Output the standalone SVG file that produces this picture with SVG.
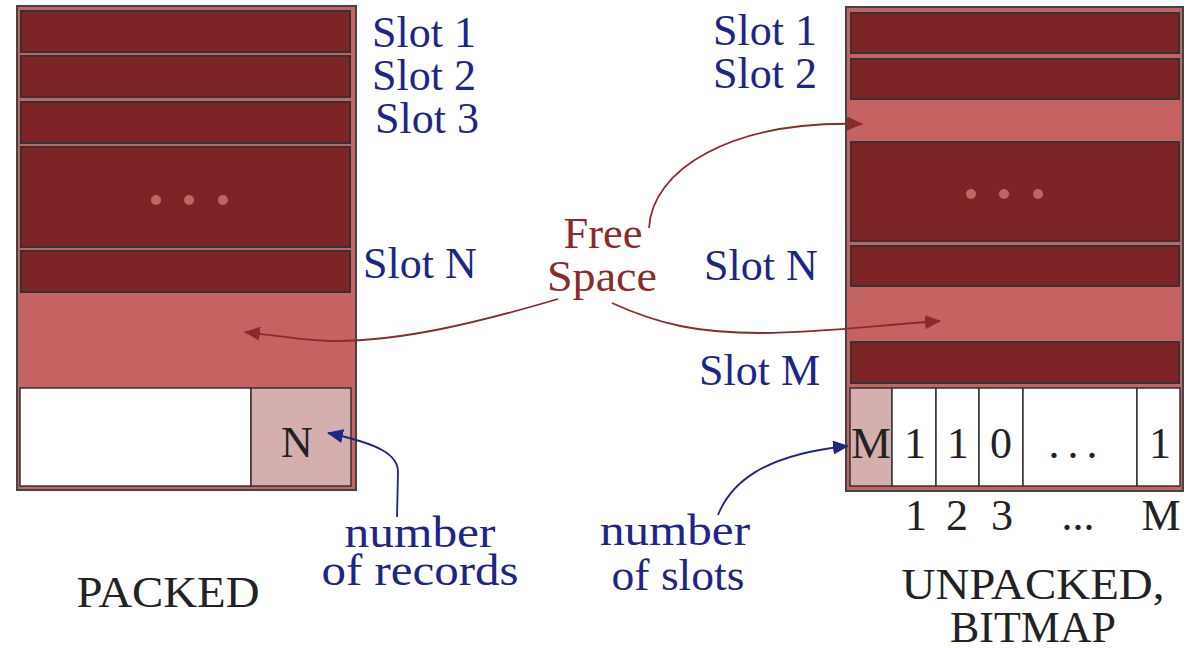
<svg xmlns="http://www.w3.org/2000/svg" width="1186" height="648" viewBox="0 0 1186 648">
<style>
.page{fill:#c56262;stroke:#444;stroke-width:2}
.slot{fill:#7d2526;stroke:#333;stroke-width:2}
.cell{fill:#fff;stroke:#333;stroke-width:1.5}
.pcell{fill:#d5aeae;stroke:#333;stroke-width:1.5}
.dot{fill:#c56262}
.blue{font-family:"Liberation Serif",serif;font-size:44px;fill:#1e2585}
.red{font-family:"Liberation Serif",serif;font-size:45px;fill:#8a2b2b}
.blk{font-family:"Liberation Serif",serif;font-size:44px;fill:#222}
.rarr{fill:none;stroke:#8a2b2b;stroke-width:1.8}
.barr{fill:none;stroke:#1e2585;stroke-width:1.8}
</style>
<defs>
<marker id="ahR" markerWidth="16" markerHeight="14" refX="15" refY="7" orient="auto" markerUnits="userSpaceOnUse"><path d="M0,0 L16,7 L0,14 Z" fill="#8a2b2b"/></marker>
<marker id="ahB" markerWidth="16" markerHeight="14" refX="15" refY="7" orient="auto" markerUnits="userSpaceOnUse"><path d="M0,0 L16,7 L0,14 Z" fill="#1e2585"/></marker>
</defs>
<rect width="1186" height="648" fill="#fff"/>

<g id="packed-page">
<rect class="page" x="17" y="6" width="339" height="484"/>
<rect class="slot" x="21" y="11" width="329" height="41"/>
<rect class="slot" x="21" y="56" width="329" height="41"/>
<rect class="slot" x="21" y="102" width="329" height="41"/>
<rect class="slot" x="21" y="147" width="329" height="100"/>
<circle class="dot" cx="156" cy="200" r="5"/>
<circle class="dot" cx="189" cy="200" r="5"/>
<circle class="dot" cx="223" cy="200" r="5"/>
<rect class="slot" x="21" y="251" width="329" height="41"/>
<rect class="cell" x="20" y="388" width="231" height="98"/>
<rect class="pcell" x="251" y="388" width="100" height="98"/>
<text class="blk" x="297" y="457" text-anchor="middle" fill="#333">N</text>
</g>

<g id="packed-labels">
<text class="blue" x="372" y="47">Slot 1</text>
<text class="blue" x="372" y="90">Slot 2</text>
<text class="blue" x="375" y="133">Slot 3</text>
<text class="blue" x="363" y="278">Slot N</text>
<text class="blk" x="168" y="607" text-anchor="middle" textLength="183" lengthAdjust="spacingAndGlyphs">PACKED</text>
<text class="blue" x="420" y="547" text-anchor="middle" textLength="151" lengthAdjust="spacingAndGlyphs">number</text>
<text class="blue" x="420" y="585" text-anchor="middle" textLength="197" lengthAdjust="spacingAndGlyphs">of records</text>
</g>

<g id="unpacked-page">
<rect class="page" x="846" y="7" width="337" height="484"/>
<rect class="slot" x="851" y="13" width="328" height="40"/>
<rect class="slot" x="851" y="59" width="328" height="40"/>
<rect class="slot" x="851" y="142" width="328" height="99"/>
<circle class="dot" cx="971" cy="194" r="5"/>
<circle class="dot" cx="1004" cy="194" r="5"/>
<circle class="dot" cx="1038" cy="194" r="5"/>
<rect class="slot" x="851" y="246" width="328" height="40"/>
<rect class="slot" x="851" y="342" width="328" height="41"/>
<rect class="pcell" x="850" y="388" width="42" height="98"/>
<rect class="cell" x="892" y="388" width="44" height="98"/>
<rect class="cell" x="936" y="388" width="43" height="98"/>
<rect class="cell" x="979" y="388" width="44" height="98"/>
<rect class="cell" x="1023" y="388" width="114" height="98"/>
<rect class="cell" x="1137" y="388" width="43" height="98"/>
<text class="blk" x="871" y="458" text-anchor="middle" fill="#333" textLength="40" lengthAdjust="spacingAndGlyphs">M</text>
<text class="blk" x="915" y="458" text-anchor="middle">1</text>
<text class="blk" x="958" y="458" text-anchor="middle">1</text>
<text class="blk" x="1001" y="458" text-anchor="middle">0</text>
<text class="blk" x="1077" y="458" text-anchor="middle" letter-spacing="8">...</text>
<text class="blk" x="1160" y="458" text-anchor="middle">1</text>
</g>

<g id="unpacked-labels">
<text class="blue" x="713" y="45">Slot 1</text>
<text class="blue" x="713" y="88">Slot 2</text>
<text class="blue" x="704" y="280">Slot N</text>
<text class="blue" x="699" y="385">Slot M</text>
<text class="blk" x="916" y="530" text-anchor="middle">1</text>
<text class="blk" x="957" y="530" text-anchor="middle">2</text>
<text class="blk" x="1002" y="530" text-anchor="middle">3</text>
<text class="blk" x="1078" y="530" text-anchor="middle">...</text>
<text class="blk" x="1161" y="530" text-anchor="middle">M</text>
<text class="blk" x="1033" y="599" text-anchor="middle" textLength="263" lengthAdjust="spacingAndGlyphs">UNPACKED,</text>
<text class="blk" x="1033" y="642" text-anchor="middle" textLength="166" lengthAdjust="spacingAndGlyphs">BITMAP</text>
<text class="blue" x="675" y="545" text-anchor="middle" textLength="150" lengthAdjust="spacingAndGlyphs">number</text>
<text class="blue" x="678" y="590" text-anchor="middle" textLength="133" lengthAdjust="spacingAndGlyphs">of slots</text>
</g>

<g id="free-space">
<text class="red" x="603" y="248" text-anchor="middle" textLength="79" lengthAdjust="spacingAndGlyphs">Free</text>
<text class="red" x="602" y="291" text-anchor="middle" textLength="110" lengthAdjust="spacingAndGlyphs">Space</text>
</g>

<g id="connectors">
<path class="rarr" d="M649,228 C652,170 730,120 862,124" marker-end="url(#ahR)"/>
<path class="rarr" d="M558,299 C480,322 400,342 330,341 C300,340 280,336 245,332" marker-end="url(#ahR)"/>
<path class="rarr" d="M612,303 C660,325 700,333 760,333 C820,333 870,326 940,321" marker-end="url(#ahR)"/>
<path class="barr" d="M397,517 L398,472 C398,455 380,444 328,433" marker-end="url(#ahB)"/>
<path class="barr" d="M718,515 C730,485 760,455 848,446" marker-end="url(#ahB)"/>
</g>
</svg>
